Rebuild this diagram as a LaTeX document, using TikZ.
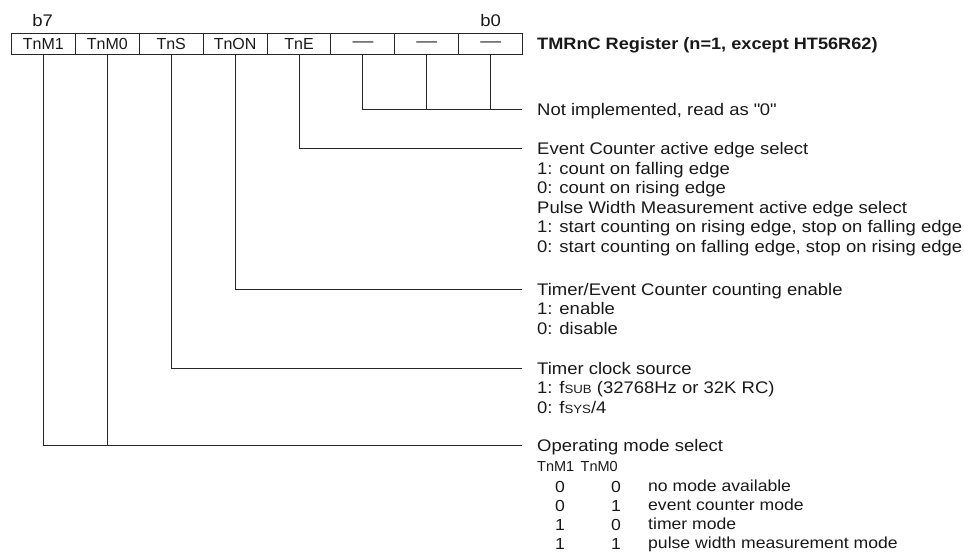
\documentclass[tikz,border=0pt]{standalone}
\usepackage{fontspec}
\setmainfont{Liberation Sans}
\newfontfamily\wide{Liberation Sans}[FakeStretch=1.1]
\begin{document}
\begin{tikzpicture}[x=1pt,y=-1pt,
  cell/.style={draw=black!85,line width=1pt,minimum width=63.9pt,minimum height=21.5pt,inner sep=0pt,font=\fontsize{16}{19.5}\selectfont,text=black!90},
  wire/.style={draw=black!85,line width=1pt},
  txt/.style={anchor=base west,inner sep=0pt,font=\wide\fontsize{16.8}{19.5}\selectfont,text=black!90},
  modetxt/.style={anchor=base west,inner sep=0pt,font=\wide\fontsize{16}{19}\selectfont,text=black!90},
  dig/.style={anchor=base,inner sep=0pt,font=\wide\fontsize{16}{19}\selectfont,text=black!90},
  hdr/.style={anchor=base west,inner sep=0pt,font=\fontsize{14.5}{17}\selectfont,text=black!90},
  bitlbl/.style={inner sep=0pt,font=\wide\fontsize{16.8}{19.5}\selectfont,text=black!90}]
\useasboundingbox (0,0) rectangle (964,556);
\newcommand\smc[1]{{\fontsize{12}{12}\selectfont #1}}
\newcommand\dsh{\scalebox{1.3}[1]{—}}
% register cells
\node[cell] (c7) at (43.4,44) {TnM1};
\node[cell] (c6) at (107.3,44) {TnM0};
\node[cell] (c5) at (171.2,44) {TnS};
\node[cell] (c4) at (235.1,44) {TnON};
\node[cell] (c3) at (299.0,44) {TnE};
\node[cell] (c2) at (362.9,44) {\dsh};
\node[cell] (c1) at (426.8,44) {\dsh};
\node[cell] (c0) at (490.7,44) {\dsh};
\node[bitlbl] (b7) at (42.7,20) {b7};
\node[bitlbl] (b0) at (490.7,20) {b0};
\node[anchor=base west,inner sep=0pt,font=\wide\fontsize{16.5}{19.5}\selectfont\bfseries,text=black!90] (title) at (537,50) {TMRnC Register (n=1, except HT56R62)};
% line ends
\coordinate (eNI) at (522,110);
\coordinate (eE) at (522,149);
\coordinate (eON) at (522,289);
\coordinate (eS) at (522,368);
\coordinate (eM) at (522,445);
% wires
\draw[wire] (c2.south) |- (eNI);
\draw[wire] (c1.south) -- (c1.south |- eNI);
\draw[wire] (c0.south) -- (c0.south |- eNI);
\draw[wire] (c3.south) |- (eE);
\draw[wire] (c4.south) |- (eON);
\draw[wire] (c5.south) |- (eS);
\draw[wire] (c7.south) |- (eM);
\draw[wire] (c6.south) -- (c6.south |- eM);
% descriptions
\node[txt] (tNI) at (537,116) {Not implemented, read as \textquotedbl 0\textquotedbl};
\node[txt] (tE) at (537,155) {\begin{tabular}[t]{@{}l@{}}
Event Counter active edge select\\
1: count on falling edge\\
0: count on rising edge\\
Pulse Width Measurement active edge select\\
1: start counting on rising edge, stop on falling edge\\
0: start counting on falling edge, stop on rising edge
\end{tabular}};
\node[txt] (tON) at (537,295) {\begin{tabular}[t]{@{}l@{}}
Timer/Event Counter counting enable\\
1: enable\\
0: disable
\end{tabular}};
\node[txt] (tS) at (537,374) {\begin{tabular}[t]{@{}l@{}}
Timer clock source\\
1: f\smc{SUB} (32768Hz or 32K RC)\\
0: f\smc{SYS}/4
\end{tabular}};
\node[txt] (tM) at (537,451) {Operating mode select};
\node[hdr] (hM) at (537,471) {TnM1\ \,TnM0};
\node[dig] (dM1) at (560,492) {\begin{tabular}[t]{@{}c@{}}0\\0\\1\\1\end{tabular}};
\node[dig] (dM0) at (616,492) {\begin{tabular}[t]{@{}c@{}}0\\1\\0\\1\end{tabular}};
\node[modetxt] (tModes) at (648,491) {\begin{tabular}[t]{@{}l@{}}
no mode available\\
event counter mode\\
timer mode\\
pulse width measurement mode
\end{tabular}};
\end{tikzpicture}
\end{document}
